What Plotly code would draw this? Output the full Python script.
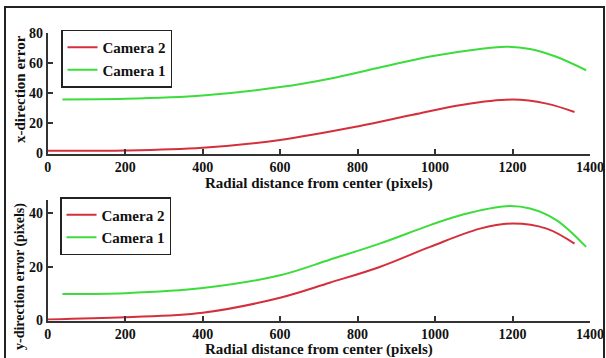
import plotly.graph_objects as go

# ---- data ----
x_cam2_top = [0, 200, 400, 600, 800, 943, 1072, 1200, 1288, 1360]
y_cam2_top = [1.8, 2.0, 3.8, 9.0, 18.0, 25.8, 32.5, 35.9, 33.2, 27.6]
x_cam1_top = [38, 200, 400, 600, 728, 857, 987, 1116, 1184, 1245, 1313, 1390]
y_cam1_top = [36.0, 36.4, 38.6, 44.2, 49.8, 57.2, 64.6, 69.6, 71.1, 69.6, 64.4, 55.4]

x_cam2_bot = [0, 200, 400, 600, 728, 857, 987, 1116, 1200, 1288, 1360]
y_cam2_bot = [0.4, 1.2, 2.9, 8.5, 14.1, 20.0, 27.5, 34.3, 36.2, 34.3, 28.7]
x_cam1_bot = [38, 200, 400, 600, 728, 857, 987, 1072, 1184, 1245, 1313, 1390]
y_cam1_bot = [9.9, 10.2, 12.1, 16.9, 22.7, 28.7, 35.6, 39.6, 42.7, 41.8, 37.5, 27.5]

x_ticks = [0, 200, 400, 600, 800, 1000, 1200, 1400]
y_ticks_top = [0, 20, 40, 60, 80]
y_ticks_bot = [0, 20, 40]

RED = "#d42f3c"
GREEN = "#3ddc3d"
AX = "#333333"
W, H = 606, 358
FONT = "Liberation Serif"

def px(x):
    return x / W

def py(y):
    return 1 - y / H

fig = go.Figure()
fig.add_trace(go.Scatter(x=x_cam2_top, y=y_cam2_top, mode="lines", name="<b>Camera 2</b>",
                         line=dict(color=RED, width=2, shape="spline"), legend="legend", xaxis="x", yaxis="y"))
fig.add_trace(go.Scatter(x=x_cam1_top, y=y_cam1_top, mode="lines", name="<b>Camera 1</b>",
                         line=dict(color=GREEN, width=2, shape="spline"), legend="legend", xaxis="x", yaxis="y"))
fig.add_trace(go.Scatter(x=x_cam2_bot, y=y_cam2_bot, mode="lines", name="<b>Camera 2</b>",
                         line=dict(color=RED, width=2, shape="spline"), legend="legend2", xaxis="x2", yaxis="y2"))
fig.add_trace(go.Scatter(x=x_cam1_bot, y=y_cam1_bot, mode="lines", name="<b>Camera 1</b>",
                         line=dict(color=GREEN, width=2, shape="spline"), legend="legend2", xaxis="x2", yaxis="y2"))

xdom = [px(47.7), px(590)]
axis_common = dict(showline=True, linecolor=AX, linewidth=2, ticks="inside", ticklen=5,
                   tickwidth=1.5, tickcolor=AX, showgrid=False, zeroline=False, automargin=False,
                   tickfont=dict(family=FONT, size=14, color="#111111"))

fig.update_layout(
    width=W, height=H,
    margin=dict(l=0, r=0, t=0, b=0, autoexpand=False),
    paper_bgcolor="white", plot_bgcolor="white",
    font=dict(family=FONT, color="#111111"),
    xaxis=dict(domain=xdom, range=[0, 1400], tickvals=x_ticks,
               ticktext=[f"<b>{v}</b>" for v in x_ticks], anchor="y",
               title=dict(text="<b>Radial distance from center (pixels)</b>",
                          font=dict(family=FONT, size=15), standoff=2), **axis_common),
    yaxis=dict(domain=[py(153.5), py(33.3)], range=[0, 80], tickvals=y_ticks_top,
               ticktext=[f"<b>{v}</b>" for v in y_ticks_top], anchor="x", **axis_common),
    xaxis2=dict(domain=xdom, range=[0, 1400], tickvals=x_ticks,
                ticktext=[f"<b>{v}</b>" for v in x_ticks], anchor="y2",
                title=dict(text="<b>Radial distance from center (pixels)</b>",
                           font=dict(family=FONT, size=15), standoff=2), **axis_common),
    yaxis2=dict(domain=[py(320.5), py(200)], range=[0, 45], tickvals=y_ticks_bot,
                ticktext=[f"<b>{v}</b>" for v in y_ticks_bot], anchor="x2", **axis_common),
    legend=dict(x=px(61), y=py(29.5), xanchor="left", yanchor="top",
                bgcolor="white", bordercolor="#222222", borderwidth=1.5,
                font=dict(family=FONT, size=15, color="#111111"),
                tracegroupgap=0, itemwidth=30),
    legend2=dict(x=px(60), y=py(197), xanchor="left", yanchor="top",
                 bgcolor="white", bordercolor="#222222", borderwidth=1.5,
                 font=dict(family=FONT, size=15, color="#111111"),
                 tracegroupgap=0, itemwidth=30),
    annotations=[
        dict(text="<b>x-direction error</b>", textangle=-90, x=px(20), y=py(89),
             xref="paper", yref="paper", showarrow=False, xanchor="center", yanchor="middle",
             font=dict(family=FONT, size=15, color="#111111")),
        dict(text="<b>y-direction error (pixels)</b>", textangle=-90, x=px(20), y=py(277),
             xref="paper", yref="paper", showarrow=False, xanchor="center", yanchor="middle",
             font=dict(family=FONT, size=14, color="#111111")),
    ],
    shapes=[
        dict(type="rect", xref="paper", yref="paper", x0=px(5), x1=px(604), y0=-0.05, y1=py(7),
             line=dict(color="#222222", width=2), fillcolor="rgba(0,0,0,0)", layer="below"),
    ],
    showlegend=True,
)

fig.write_html("out.html", config={"displayModeBar": False},
               post_script="document.body.style.margin='0';document.body.style.overflow='hidden';")
